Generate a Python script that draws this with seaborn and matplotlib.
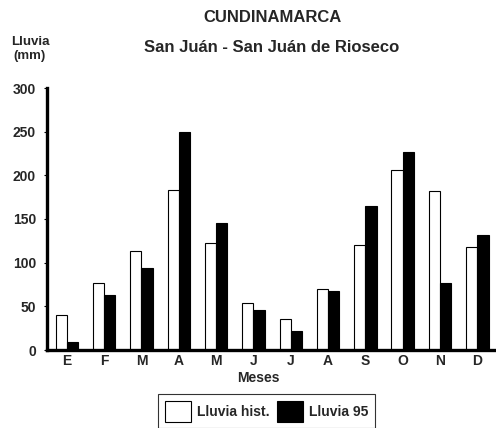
import matplotlib
matplotlib.use("Agg")
import matplotlib.pyplot as plt
import seaborn as sns
import pandas as pd
from matplotlib.patches import Patch

month_keys = ["Ene", "Feb", "Mar", "Abr", "May", "Jun", "Jul", "Ago", "Sep", "Oct", "Nov", "Dic"]
month_labels = ["E", "F", "M", "A", "M", "J", "J", "A", "S", "O", "N", "D"]
lluvia_hist = [40, 77, 113, 183, 123, 54, 35, 70, 120, 206, 182, 118]
lluvia_95 = [9, 63, 94, 250, 145, 46, 22, 68, 165, 227, 77, 132]
series_names = ["Lluvia hist.", "Lluvia 95"]
y_ticks = [0, 50, 100, 150, 200, 250, 300]

df = pd.DataFrame({
    "mes": month_keys * 2,
    "serie": [series_names[0]] * 12 + [series_names[1]] * 12,
    "lluvia": lluvia_hist + lluvia_95,
})

sns.set_style("white")
plt.rcParams["font.family"] = ["Liberation Sans", "DejaVu Sans"]
plt.rcParams["font.weight"] = "bold"

fig = plt.figure(figsize=(4.96, 4.28), dpi=100)
ax = fig.add_axes([47 / 496, 1 - 350 / 428, 1 - 47 / 496, (350 - 88) / 428])

sns.barplot(data=df, x="mes", y="lluvia", hue="serie", order=month_keys,
            hue_order=series_names, palette=["white", "black"],
            edgecolor="black", linewidth=0.8, width=0.6, ax=ax, legend=False)

ax.set_xlim(-0.53, 11.5)
ax.set_ylim(0, 300)
ax.set_yticks(y_ticks)
ax.set_yticklabels([str(v) for v in y_ticks], fontsize=10, fontweight="bold")
ax.set_xticks(range(12))
ax.set_xticklabels(month_labels, fontsize=10, fontweight="bold")
ax.set_xticks([i + 0.5 for i in range(-1, 12)], minor=True)
ax.tick_params(axis="x", which="major", length=0, pad=3)
ax.tick_params(axis="x", which="minor", length=3, width=0.6, direction="inout", color="black")
ax.tick_params(axis="y", which="major", length=2, width=0.8, pad=6, color="black", left=True)
ax.set_xlabel("Meses", fontsize=10, fontweight="bold", labelpad=0)
ax.xaxis.set_label_coords(0.47, -0.08)
ax.set_ylabel("")
for s in ["top", "right"]:
    ax.spines[s].set_visible(False)
for s in ["left", "bottom"]:
    ax.spines[s].set_linewidth(2.4)
    ax.spines[s].set_color("black")

fig.text(272 / 496, 1 - 18 / 428, "CUNDINAMARCA", ha="center", va="center",
         fontsize=12, fontweight="bold")
fig.text(272 / 496, 1 - 47 / 428, "San Juán - San Juán de Rioseco", ha="center", va="center",
         fontsize=12, fontweight="bold")
fig.text(30 / 496, 1 - 49 / 428, "Lluvia\n(mm)", ha="center", va="center",
         fontsize=9.5, fontweight="bold", linespacing=1.3)

handles = [Patch(facecolor="white", edgecolor="black", linewidth=0.8),
           Patch(facecolor="black", edgecolor="black", linewidth=0.8)]
leg = fig.legend(handles, series_names, loc="upper left", bbox_to_anchor=(158 / 496, 1 - 394 / 428),
                 ncol=2, frameon=True, fancybox=False, fontsize=10, handlelength=1.87,
                 handleheight=1.9, handletextpad=0.45, columnspacing=0.5, borderpad=0.5,
                 borderaxespad=0)
leg.get_frame().set_edgecolor("black")
leg.get_frame().set_linewidth(0.8)
for t in leg.get_texts():
    t.set_fontweight("bold")

fig.savefig("out.png", dpi=100)
